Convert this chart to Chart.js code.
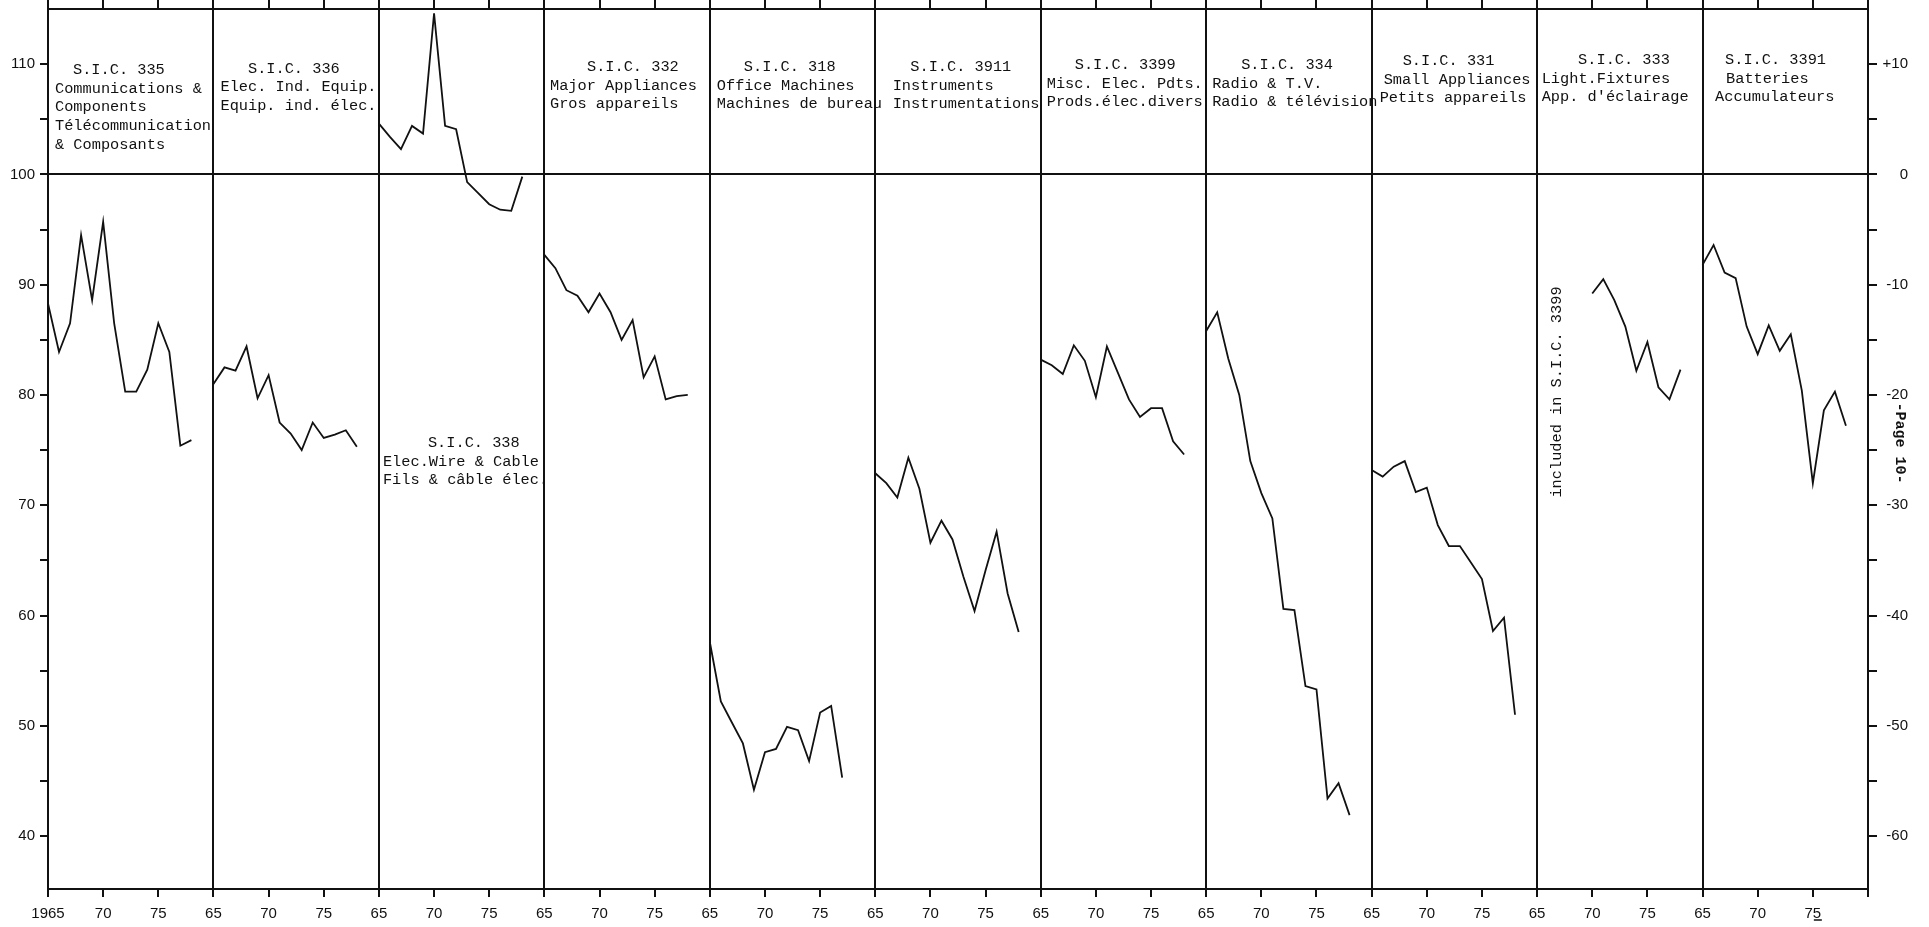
<!DOCTYPE html>
<html>
<head>
<meta charset="utf-8">
<title>S.I.C. index 1965-1978</title>
<script src="https://cdn.jsdelivr.net/npm/chart.js@4"></script>
<style>
    html, body { margin: 0; padding: 0; background: #fff; }
    #wrap { position: relative; width: 1929px; height: 927px; }
</style>
</head>
<body>
<div id="wrap"><canvas id="sicChart"></canvas></div>
<script>
// Data (index, 100 = base)
var years = [1965, 1966, 1967, 1968, 1969, 1970, 1971, 1972, 1973, 1974, 1975, 1976, 1977, 1978];
var panelCodes = ['335', '336', '338', '332', '318', '3911', '3399', '334', '331', '333', '3391'];

var sic335 = [88.3, 83.9, 86.5, 94.5, 88.6, 95.7, 86.5, 80.3, 80.3, 82.3, 86.5, 83.9, 75.4, 75.9];
var sic336 = [81.0, 82.5, 82.2, 84.4, 79.7, 81.8, 77.5, 76.5, 75.0, 77.5, 76.1, 76.4, 76.8, 75.3];
var sic338 = [104.6, 103.4, 102.3, 104.4, 103.7, 114.6, 104.4, 104.1, 99.3, 98.3, 97.3, 96.8, 96.7, 99.8];
var sic332 = [92.7, 91.5, 89.5, 89.0, 87.5, 89.2, 87.5, 85.0, 86.8, 81.6, 83.5, 79.6, 79.9, 80.0];
var sic318 = [57.6, 52.2, 50.3, 48.4, 44.2, 47.6, 47.9, 49.9, 49.6, 46.8, 51.2, 51.8, 45.3, null];
var sic3911 = [72.9, 72.0, 70.7, 74.3, 71.5, 66.6, 68.6, 66.9, 63.5, 60.4, 64.1, 67.6, 62.0, 58.5];
var sic3399 = [83.2, 82.7, 81.9, 84.5, 83.1, 79.8, 84.4, 82.0, 79.6, 78.0, 78.8, 78.8, 75.8, 74.6];
var sic334 = [85.8, 87.5, 83.3, 80.0, 74.0, 71.1, 68.8, 60.6, 60.5, 53.6, 53.3, 43.4, 44.8, 41.9];
var sic331 = [73.2, 72.6, 73.5, 74.0, 71.2, 71.6, 68.2, 66.3, 66.3, 64.8, 63.3, 58.6, 59.8, 51.0];
var sic333 = [null, null, null, null, null, 89.2, 90.5, 88.6, 86.2, 82.2, 84.8, 80.7, 79.6, 82.3];
var sic3391 = [91.8, 93.6, 91.1, 90.6, 86.2, 83.7, 86.3, 84.0, 85.5, 80.4, 72.0, 78.6, 80.3, 77.2];

var series = [sic335, sic336, sic338, sic332, sic318, sic3911, sic3399, sic334, sic331, sic333, sic3391];

// tick labels
var yearLabels = ['65', '70', '75'];
var firstYearLabel = '1965';
var leftTicks = [40, 45, 50, 55, 60, 65, 70, 75, 80, 85, 90, 95, 100, 105, 110];

// panel captions
var titles = [
    ['S.I.C. 335', 'Communications &', 'Components', 'Télécommunication', '& Composants'],
    ['S.I.C. 336', 'Elec. Ind. Equip.', 'Equip. ind. élec.'],
    ['S.I.C. 338', 'Elec.Wire & Cable', 'Fils & câble élec.'],
    ['S.I.C. 332', 'Major Appliances', 'Gros appareils'],
    ['S.I.C. 318', 'Office Machines', 'Machines de bureau'],
    ['S.I.C. 3911', 'Instruments', 'Instrumentations'],
    ['S.I.C. 3399', 'Misc. Elec. Pdts.', 'Prods.élec.divers'],
    ['S.I.C. 334', 'Radio & T.V.', 'Radio & télévision'],
    ['S.I.C. 331', 'Small Appliances', 'Petits appareils'],
    ['S.I.C. 333', 'Light.Fixtures', 'App. d\'éclairage'],
    ['S.I.C. 3391', 'Batteries', 'Accumulateurs']
];
var note333 = 'included in S.I.C. 3399';
var pageNote = '-Page 10-';

// layout of captions (px from panel left / chart top)
var titleTop = [61, 59.5, 434, 58, 58, 58, 56, 56, 52, 51, 51];
var titleIndent = [
    [25, 7, 7, 7, 7],
    [34.5, 7, 7],
    [49, 4, 4],
    [42.6, 5.6, 5.6],
    [34, 7, 7],
    [35, 17.4, 17.4],
    [34, 6, 6],
    [35, 6, 6],
    [31, 12, 8],
    [41, 4.6, 4.6],
    [22.5, 23.5, 12.5]
];
var lineStep = 18.7;
var panelSpan = 15;   // years per panel on the shared axis
var ink = '#111';
var monoFont = '"Liberation Mono", "DejaVu Sans Mono", monospace';

Chart.defaults.font.family = '"Liberation Sans", Arial, sans-serif';
Chart.defaults.font.size = 15;
Chart.defaults.color = ink;

function buildPoints(values, panel) {
    var points = [];
    for (var i = 0; i <= values.length - 1; i++) {
        if (values[i] === null) continue;
        points.push({ x: panel * panelSpan + (years[i] - years[0]), y: values[i] });
    }
    return points;
}

function yearTicks(scale) {
    var ticks = [];
    for (var v = 0; v <= panelCodes.length * panelSpan; v += 5) {
        ticks.push({ value: v });
    }
    scale.ticks = ticks;
}

function valueTicks(scale) {
    scale.ticks = leftTicks.map(function (v) { return { value: v }; });
}

function fixedWidth(w) {
    return function (scale) {
        scale.width = w;
        scale.paddingTop = 0;
        scale.paddingBottom = 0;
    };
}

function fixedHeight(h) {
    return function (scale) {
        scale.height = h;
        scale.paddingLeft = 0;
        scale.paddingRight = 0;
    };
}

var panelTitles = {
    id: 'panelTitles',
    afterDraw: function (chart) {
        var ctx = chart.ctx;
        var x = chart.scales.x;
        var area = chart.chartArea;
        ctx.save();
        ctx.fillStyle = ink;
        ctx.font = '15.3px ' + monoFont;
        ctx.textAlign = 'left';
        ctx.textBaseline = 'middle';
        for (var i = 0; i <= titles.length - 1; i++) {
            var left = x.getPixelForValue(i * panelSpan);
            for (var j = 0; j <= titles[i].length - 1; j++) {
                ctx.fillText(titles[i][j], left + titleIndent[i][j], area.top + titleTop[i] + j * lineStep);
            }
        }

        // sideways note in the S.I.C. 333 panel
        ctx.save();
        ctx.translate(x.getPixelForValue(9 * panelSpan) + 20, area.top + 383);
        ctx.rotate(-Math.PI / 2);
        ctx.textAlign = 'center';
        ctx.fillText(note333, 0, 0);
        ctx.restore();

        // page number on the right edge
        ctx.save();
        ctx.translate(area.right + 32, area.top + 434);
        ctx.rotate(Math.PI / 2);
        ctx.textAlign = 'center';
        ctx.font = 'bold 15px ' + monoFont;
        ctx.fillText(pageNote, 0, 0);
        ctx.restore();

        // the typed underline under the last "75"
        var u = x.getPixelForValue(10 * panelSpan + 10);
        ctx.strokeStyle = ink;
        ctx.lineWidth = 1.5;
        ctx.beginPath();
        ctx.moveTo(u + 1, area.bottom + 31);
        ctx.lineTo(u + 9, area.bottom + 31);
        ctx.stroke();

        ctx.restore();
    }
};

var datasets = [];
for (var p = 0; p <= series.length - 1; p++) {
    datasets.push({
        label: 'S.I.C. ' + panelCodes[p],
        data: buildPoints(series[p], p),
        borderColor: ink,
        borderWidth: 1.8,
        pointRadius: 0,
        fill: false,
        tension: 0,
        spanGaps: false,
        xAxisID: 'x',
        yAxisID: 'y'
    });
}

new Chart(document.getElementById('sicChart'), {
    type: 'line',
    data: { datasets: datasets },
    plugins: [panelTitles],
    options: {
        responsive: true,
        maintainAspectRatio: false,
        animation: false,
        layout: { padding: { left: 0, top: 0, bottom: 0, right: 21 } },
        plugins: {
            legend: { display: false },
            tooltip: { enabled: false }
        },
        scales: {
            x: {
                type: 'linear',
                position: 'bottom',
                min: 0,
                max: panelCodes.length * panelSpan,
                afterBuildTicks: yearTicks,
                afterFit: fixedHeight(38),
                ticks: {
                    autoSkip: false,
                    maxRotation: 0,
                    padding: 8,
                    callback: function (v) {
                        if (v === 0) return firstYearLabel;
                        if (v >= panelCodes.length * panelSpan) return '';
                        return yearLabels[(v % panelSpan) / 5];
                    }
                },
                grid: {
                    drawOnChartArea: true,
                    color: function (c) {
                        return c.tick && c.tick.value % panelSpan === 0 ? ink : 'rgba(0,0,0,0)';
                    },
                    tickColor: ink,
                    tickLength: 8,
                    lineWidth: 2
                },
                border: { display: true, color: ink, width: 2 }
            },
            x2: {
                type: 'linear',
                position: 'top',
                min: 0,
                max: panelCodes.length * panelSpan,
                afterBuildTicks: yearTicks,
                afterFit: fixedHeight(9),
                ticks: { display: false },
                grid: {
                    drawOnChartArea: false,
                    tickColor: ink,
                    tickLength: 9,
                    lineWidth: 2
                },
                border: { display: true, color: ink, width: 2 }
            },
            y: {
                position: 'left',
                min: 35.2,
                max: 115,
                afterBuildTicks: valueTicks,
                afterFit: fixedWidth(48),
                ticks: {
                    padding: 5,
                    callback: function (v) { return v % 10 === 0 ? String(v) : ''; }
                },
                grid: {
                    drawOnChartArea: true,
                    color: function (c) {
                        return c.tick && c.tick.value === 100 ? ink : 'rgba(0,0,0,0)';
                    },
                    tickColor: ink,
                    tickLength: 8,
                    lineWidth: 2
                },
                border: { display: true, color: ink, width: 2 }
            },
            y2: {
                position: 'right',
                min: 35.2,
                max: 115,
                afterBuildTicks: valueTicks,
                afterFit: fixedWidth(40),
                ticks: {
                    padding: 5,
                    crossAlign: 'far',
                    callback: function (v) {
                        if (v % 10 !== 0) return '';
                        if (v === 100) return '0';
                        return (v > 100 ? '+' : '') + (v - 100);
                    }
                },
                grid: {
                    drawOnChartArea: false,
                    tickColor: ink,
                    tickLength: 9,
                    lineWidth: 2
                },
                border: { display: true, color: ink, width: 2 }
            }
        }
    }
});
</script>
</body>
</html>
